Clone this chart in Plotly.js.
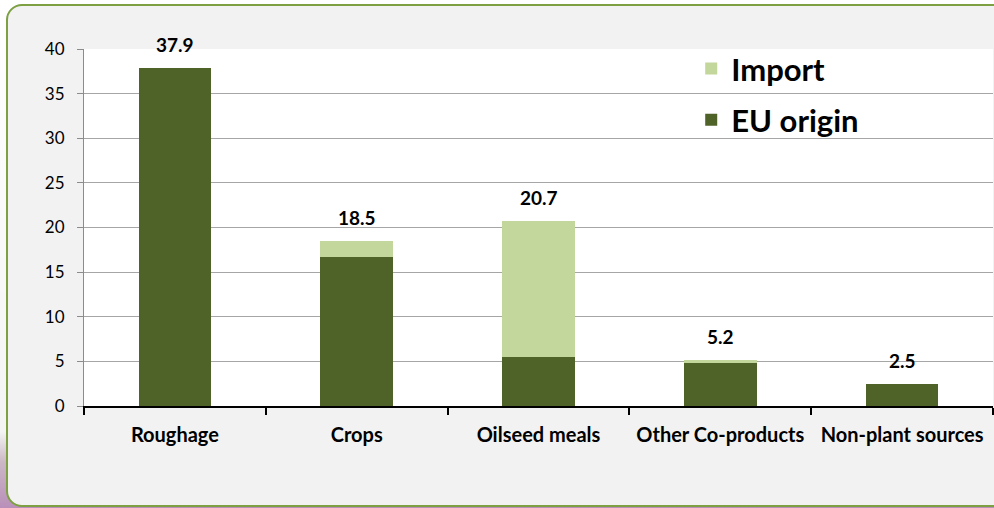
<!DOCTYPE html>
<html>
<head>
<meta charset="utf-8">
<script src="https://cdn.plot.ly/plotly-3.0.1.min.js"></script>
<style>
html,body{margin:0;padding:0;width:994px;height:508px;overflow:hidden;
  background:linear-gradient(to bottom,#ffffff 0%,#f4f4f4 85%,#cbb7c6 91%,#b98fb9 100%);}
#card{position:absolute;left:6px;top:4px;width:1010px;height:499px;border:2px solid #7da043;
  border-radius:16px;background:#f2f2f2;}
#chart{position:absolute;left:0;top:0;width:994px;height:508px;}
</style>
</head>
<body>
<div id="card"></div>
<div id="chart"></div>
<script>
const categories = ["Roughage", "Crops", "Oilseed meals", "Other Co-products", "Non-plant sources"];
const euOrigin = [37.9, 16.7, 5.5, 4.8, 2.5];
const importVals = [0, 1.8, 15.2, 0.4, 0];
const totalLabels = ["37.9", "18.5", "20.7", "5.2", "2.5"];

const totals = euOrigin.map((v, i) => v + importVals[i]);

const traces = [
  {type: "bar", name: "EU origin", x: categories, y: euOrigin,
   marker: {color: "#4f6228", line: {width: 0}}, hoverinfo: "skip",
   legendgroup: "eu", legendrank: 2},
  {type: "bar", name: "Import", x: categories, y: importVals,
   marker: {color: "#c3d69b", line: {width: 0}}, hoverinfo: "skip",
   legendgroup: "imp", legendrank: 1}
];

const annotations = categories.map((c, i) => ({
  x: c, y: totals[i], xref: "x", yref: "y", text: totalLabels[i],
  showarrow: false, yanchor: "bottom", yshift: 10,
  font: {family: "Lato", size: 19, color: "#000", weight: "bold"}
}));

const layout = {
  width: 994, height: 508,
  margin: {l: 84, r: 1, t: 49, b: 102},
  paper_bgcolor: "rgba(0,0,0,0)",
  plot_bgcolor: "#ffffff",
  barmode: "stack",
  bargap: 0.6,
  showlegend: true,
  annotations: annotations,
  legend: {x: 0.668, y: 1.02, xanchor: "left", yanchor: "top",
    bgcolor: "rgba(0,0,0,0)", traceorder: "grouped", tracegroupgap: 8,
    font: {family: "Lato", size: 31, color: "#000", weight: "bold"}},
  xaxis: {type: "category", tickson: "boundaries", ticks: "outside", ticklen: 7, tickwidth: 2,
    tickcolor: "#000", showline: true, linecolor: "#000", linewidth: 2,
    showgrid: false, fixedrange: true, ticklabelstandoff: 10, tickangle: 0,
    tickfont: {family: "Lato", size: 20, color: "#000", weight: "bold"}},
  yaxis: {range: [0, 40], dtick: 5, ticks: "outside", ticklen: 6, tickcolor: "#8c8c8c",
    showline: true, linecolor: "#8c8c8c", linewidth: 1, gridcolor: "#a6a6a6", gridwidth: 1,
    zeroline: false, fixedrange: true, ticklabelstandoff: 9,
    tickfont: {family: "Lato", size: 17, color: "#000"}}
};

Plotly.newPlot("chart", traces, layout, {displayModeBar: false, staticPlot: true});
</script>
</body>
</html>
